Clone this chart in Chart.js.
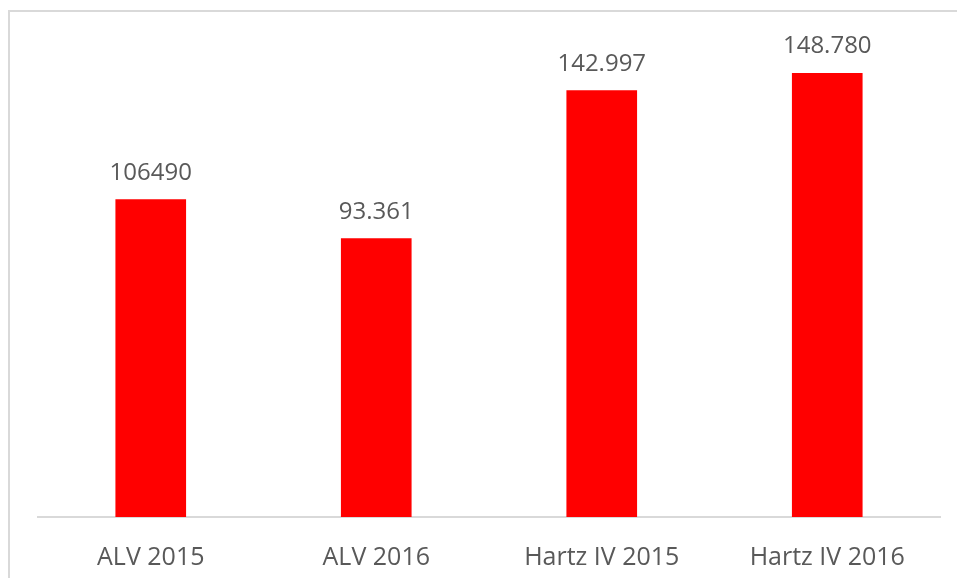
<!DOCTYPE html>
<html>
<head>
<meta charset="utf-8">
<script src="https://cdn.jsdelivr.net/npm/chart.js@4/dist/chart.umd.min.js"></script>
<style>
  html, body { margin: 0; padding: 0; background: #fff; }
  #wrap { width: 957px; height: 578px; }
</style>
</head>
<body>
<div id="wrap"><canvas id="chart" width="957" height="578"></canvas></div>
<script>
// Leistungsempfaenger
const categories = ['ALV 2015', 'ALV 2016', 'Hartz IV 2015', 'Hartz IV 2016'];
const values = [106490, 93361, 142997, 148780];
const valueLabels = ['106490', '93.361', '142.997', '148.780'];

const textColor = '#595959';

// Frame around the chart
const framePlugin = {
    id: 'frame',
    beforeDraw: chart => {
        const ctx = chart.ctx;
        ctx.save();
        ctx.strokeStyle = '#d9d9d9';
        ctx.lineWidth = 2;
        ctx.beginPath();
        ctx.moveTo(9, 600);
        ctx.lineTo(9, 11);
        ctx.lineTo(1000, 11);
        ctx.stroke();
        ctx.restore();
    }
};

// Value labels above the bars
const valueLabelPlugin = {
    id: 'valueLabels',
    afterDatasetsDraw: chart => {
        const ctx = chart.ctx;
        const meta = chart.getDatasetMeta(0);
        ctx.save();
        ctx.fillStyle = textColor;
        ctx.font = '24px "Open Sans"';
        ctx.textAlign = 'center';
        ctx.textBaseline = 'alphabetic';
        meta.data.forEach((bar, i) => {
            ctx.fillText(valueLabels[i], bar.x, bar.y - 20);
        });
        ctx.restore();
    }
};

const chart = new Chart(document.getElementById('chart').getContext('2d'), {
    type: 'bar',
    data: {
        labels: categories,
        datasets: [{
            data: values,
            backgroundColor: '#ff0000',
            barThickness: 70
        }]
    },
    options: {
        responsive: false,
        animation: false,
        layout: {
            padding: { left: 38, right: 17, top: 40, bottom: 0 }
        },
        plugins: {
            legend: { display: false },
            tooltip: { enabled: false }
        },
        scales: {
            x: {
                grid: { display: false },
                border: { display: true, color: '#d9d9d9', width: 2 },
                ticks: {
                    color: textColor,
                    font: { family: '"Open Sans"', size: 25 },
                    padding: 18
                },
                afterFit: scale => { scale.height = 61; }
            },
            y: {
                display: false,
                min: 0,
                max: 160000
            }
        }
    },
    plugins: [framePlugin, valueLabelPlugin]
});
</script>
</body>
</html>
